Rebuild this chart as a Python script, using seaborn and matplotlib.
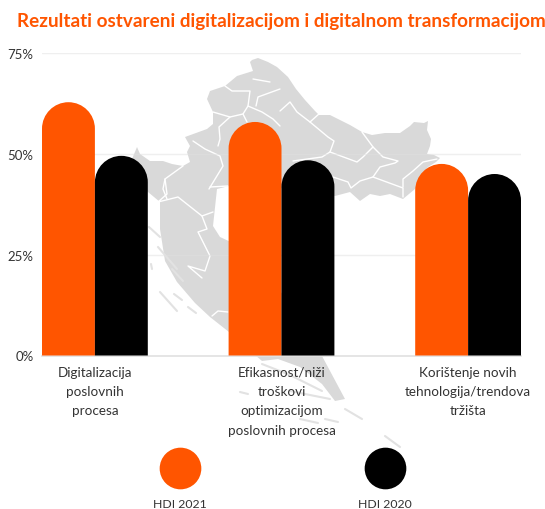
# -*- coding: utf-8 -*-
import pandas as pd
import seaborn as sns
import matplotlib.pyplot as plt
from matplotlib.path import Path
from matplotlib.patches import PathPatch
from matplotlib.lines import Line2D
from matplotlib.ticker import FuncFormatter

# ================= DATA =================
categories = ["Digitalizacija\nposlovnih\nprocesa",
              "Efikasnost/niži\ntroškovi\noptimizacijom\nposlovnih procesa",
              "Korištenje novih\ntehnologija/trendova\ntržišta"]
hdi_2021 = [62.8, 57.9, 47.5]
hdi_2020 = [49.5, 48.4, 45.0]
series_names = ["HDI 2021", "HDI 2020"]
y_ticks = [0, 25, 50, 75]
title = "Rezultati ostvareni digitalizacijom i digitalnom transformacijom"

ORANGE = "#FF5500"
MAP_GREY = "#D9D9D9"
TEXT = "#333333"

# background map outline, traced in image pixels
map_outline = [(252, 61), (258, 59), (268, 63), (277, 68), (288, 78), (296, 90), (305, 101), (315, 112),
               (319, 116), (330, 116), (342, 122), (350, 126), (362, 133), (372, 136), (385, 134), (400, 134),
               (410, 127), (414, 123), (424, 124), (428, 122), (427, 131), (431, 140), (430, 147), (427, 155),
               (434, 156), (440, 159), (436, 163), (428, 168), (420, 180), (415, 190), (403, 200), (390, 195),
               (380, 197), (370, 195), (360, 202), (350, 193), (335, 197), (300, 190), (229, 187), (217, 190),
               (213, 227), (220, 238), (235, 245), (330, 345), (322, 357), (345, 400), (335, 402), (322, 385),
               (300, 368), (278, 360), (262, 362), (229, 333), (210, 318), (195, 304), (177, 283), (165, 262),
               (160, 230), (160, 203), (148, 193), (135, 180), (130, 165), (137, 148), (140, 155), (150, 162),
               (163, 162), (172, 165), (183, 167), (190, 163), (187, 153), (190, 147), (185, 138), (207, 130),
               (213, 125), (213, 113), (207, 100), (210, 92), (225, 87), (237, 77), (253, 72), (250, 63)]
map_borders = [
    [(280, 112), (290, 103), (297, 113), (310, 123), (328, 138), (334, 142), (330, 153), (322, 158), (293, 162)],
    [(310, 123), (320, 114)],
    [(330, 153), (357, 163), (363, 158), (373, 148)],
    [(362, 133), (373, 148), (383, 158), (398, 162), (395, 164), (380, 168), (373, 178), (360, 182), (351, 189),
     (348, 183), (333, 178)],
    [(373, 178), (403, 189), (403, 198)],
    [(403, 188), (403, 180), (413, 172), (423, 163), (437, 160)],
    [(225, 87), (232, 92), (250, 92), (248, 107), (243, 115), (230, 118), (219, 128), (220, 140), (218, 147)],
    [(253, 80), (270, 83)],
    [(256, 107), (258, 98), (280, 90)],
    [(248, 107), (262, 113), (273, 120), (280, 127)],
    [(243, 115), (247, 123)],
    [(213, 113), (230, 118)],
    [(193, 142), (205, 150), (220, 157), (223, 167), (209, 190)],
    [(183, 167), (165, 180), (163, 190), (167, 200)],
    [(165, 180), (167, 195), (158, 203), (178, 198), (202, 217), (213, 213)],
    [(202, 217), (207, 230), (198, 233), (210, 257), (205, 272), (188, 267), (202, 279)],
    [(210, 188), (228, 187)],
    [(212, 317), (218, 312), (228, 313)],
]
map_islands = [
    [(149, 228), (160, 238)], [(158, 248), (177, 270)], [(151, 265), (152, 270)], [(172, 270), (183, 282)],
    [(160, 293), (177, 312)], [(174, 295), (182, 301)], [(188, 308), (196, 314)],
    [(240, 393), (248, 395)], [(262, 365), (290, 376)], [(292, 377), (322, 392)], [(290, 392), (330, 400)],
    [(325, 420), (338, 423)], [(300, 420), (318, 424)], [(385, 437), (400, 448)], [(345, 410), (362, 420)],
]


def round_bar(bar, ax, radius_px):
    # replace a square bar with one that has a round top
    x0, w, h = bar.get_x(), bar.get_width(), bar.get_height()
    x1 = x0 + w
    ry = radius_px * (ax.get_ylim()[1] - ax.get_ylim()[0]) / ax.get_window_extent().height
    k = 0.5523
    xm = x0 + w / 2
    verts = [(x0, 0), (x0, h - ry),
             (x0, h - ry + k * ry), (xm - k * w / 2, h), (xm, h),
             (xm + k * w / 2, h), (x1, h - ry + k * ry), (x1, h - ry),
             (x1, 0), (x0, 0)]
    codes = [Path.MOVETO, Path.LINETO, Path.CURVE4, Path.CURVE4, Path.CURVE4,
             Path.CURVE4, Path.CURVE4, Path.CURVE4, Path.LINETO, Path.CLOSEPOLY]
    ax.add_patch(PathPatch(Path(verts, codes), facecolor=bar.get_facecolor(), edgecolor="none", zorder=3))
    bar.set_visible(False)


def main():
    sns.set_theme(style="white")
    plt.rcParams['font.family'] = ['Lato', 'DejaVu Sans']

    df = pd.DataFrame({
        "kategorija": categories * 2,
        "vrijednost": hdi_2021 + hdi_2020,
        "serija": [series_names[0]] * 3 + [series_names[1]] * 3,
    })

    fig = plt.figure(figsize=(5.45, 5.10), dpi=100)
    W, H = 545, 510

    # background map in pixel space
    bg = fig.add_axes([0, 0, 1, 1], zorder=0)
    bg.set_xlim(0, W)
    bg.set_ylim(H, 0)
    bg.axis("off")
    bg.fill(*zip(*map_outline), color=MAP_GREY, lw=0)
    for line in map_borders:
        bg.plot(*zip(*line), color="white", lw=1.0, solid_capstyle="round")
    for line in map_islands:
        bg.plot(*zip(*line), color="#E2E2E2", lw=1.5, solid_capstyle="round")

    ax = fig.add_axes([42 / W, 1 - 356.5 / H, 479 / W, 302.5 / H], zorder=1)
    ax.patch.set_alpha(0)
    sns.barplot(data=df, x="kategorija", y="vrijednost", hue="serija",
                palette=[ORANGE, "black"], width=0.567, gap=0, saturation=1,
                legend=False, ax=ax)
    ax.set_xlim(-0.2835, 2.2835)
    ax.set_ylim(0, 75)
    for bar in list(ax.patches):
        round_bar(bar, ax, 26.5)

    ax.set_yticks(y_ticks)
    ax.yaxis.set_major_formatter(FuncFormatter(lambda v, pos: f"{v:.0f}%"))
    ax.grid(axis="y", color="#E0E0E0", alpha=0.5, lw=1)
    ax.set_axisbelow(True)
    ax.set_xlabel("")
    ax.set_ylabel("")
    sns.despine(ax=ax, left=True, top=True, right=True)
    ax.spines["bottom"].set_color("#E2E2E2")
    ax.tick_params(axis="y", length=0, pad=6, labelsize=9.5, labelcolor=TEXT)
    ax.tick_params(axis="x", length=0, pad=7.5, labelsize=9.7, labelcolor=TEXT)
    for lab in ax.get_xticklabels():
        lab.set_linespacing(1.72)

    fig.text(17 / W, 1 - 21 / H, title, color=ORANGE, fontsize=13.6, fontweight="bold",
             ha="left", va="center")

    # legend: big dots with the name underneath
    for name, color, px in zip(series_names, [ORANGE, "black"], [180, 385]):
        fig.add_artist(Line2D([px / W], [1 - 469 / H], marker="o", ms=30, mfc=color, mec="none",
                              ls="none", transform=fig.transFigure))
        fig.text(px / W, 1 - 504.5 / H, name, color=TEXT, fontsize=8.8, ha="center", va="center")

    fig.savefig("out.png", dpi=100)


if __name__ == "__main__":
    main()
